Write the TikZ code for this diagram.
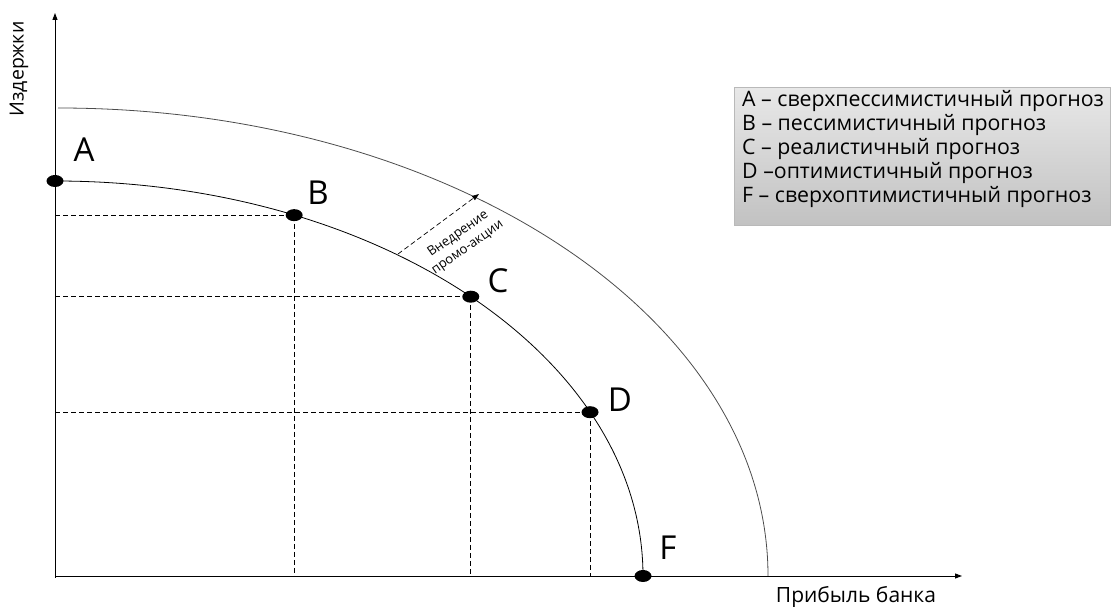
\documentclass[tikz,border=0pt]{standalone}
\usepackage{fontspec}
\setmainfont{Open Sans}
\usetikzlibrary{arrows.meta,shapes.geometric,calc}
\tikzset{
  axis/.style={line width=0.9pt, -{Triangle[length=7pt,width=5pt]}},
  curve/.style={line width=0.8pt},
  guide/.style={line width=0.6pt, dash pattern=on 5pt off 3pt},
  dot/.style={ellipse, fill=black, inner sep=0pt, minimum width=17pt, minimum height=12pt},
  ptlabel/.style={font=\fontsize{33}{36}\selectfont, inner sep=0pt},
  legendline/.style={font=\fontsize{21.3}{24}\selectfont, anchor=base west, inner sep=0pt}
}
\begin{document}
\begin{tikzpicture}[x=1pt,y=1pt]
\useasboundingbox (0,0) rectangle (1111,607);
% axes
\coordinate (O) at (55,31);
\coordinate (ytop) at (55,594);
\coordinate (xend) at (962,31);
\draw[axis] (55,29) -- (ytop);
\draw[axis] (O) -- (xend);
\node[rotate=90, font=\fontsize{19.5}{21}\selectfont, inner sep=0pt] (ylab) at (19,538) {Издержки};
\node[font=\fontsize{21}{22}\selectfont, inner sep=0pt, anchor=base] (xlab) at (856,4) {Прибыль банка};

% production-possibility style curves
\draw[curve] ($(O)+(0,395)$) arc[start angle=90, end angle=0, x radius=588, y radius=395];
\draw[curve, gray!60!black] ($(O)+(3,468)$) arc[start angle=90, end angle=0, x radius=710, y radius=468];

% forecast points
\coordinate (pA) at ($(O)+(90:588 and 395)$);
\coordinate (pB) at ($(O)+(66:588 and 395)$);
\coordinate (pC) at ($(O)+(45:588 and 395)$);
\coordinate (pD) at ($(O)+(24.5:588 and 395)$);
\coordinate (pF) at ($(O)+(0:588 and 395)$);

% guide lines
\draw[guide] (pB -| O) -- (pB) -- (pB |- O);
\draw[guide] (pC -| O) -- (pC) -- (pC |- O);
\draw[guide] (pD -| O) -- (pD) -- (pD |- O);

\node[dot] (A) at (pA) {};
\node[dot] (B) at (pB) {};
\node[dot] (C) at (pC) {};
\node[dot] (D) at (pD) {};
\node[dot] (F) at (pF) {};

\node[ptlabel] (lA) at (84,457) {A};
\node[ptlabel] (lB) at (318,414) {B};
\node[ptlabel] (lC) at (498,326) {C};
\node[ptlabel] (lD) at (620,207) {D};
\node[ptlabel] (lF) at (668,59) {F};

% shift of the curve
\coordinate (s1) at (398,353);
\coordinate (s2) at (479,413);
\draw[line width=0.7pt, dash pattern=on 5pt off 3pt, -{Triangle[length=7pt,width=5pt]}] (s1) -- (s2);
\node[rotate=35, font=\fontsize{13}{16.5}\selectfont, align=center, inner sep=0pt] (shift) at (463,366) {Внедрение\\промо-акции};

% legend
\node[draw=gray!55, top color=gray!18, bottom color=gray!48, minimum width=376pt, minimum height=138pt, anchor=north west, inner sep=0pt] (legend) at (734,520) {};
\node[legendline] (g1) at (742,500) {A – сверхпессимистичный прогноз};
\node[legendline] (g2) at (742,476) {B – пессимистичный прогноз};
\node[legendline] (g3) at (742,452) {C – реалистичный прогноз};
\node[legendline] (g4) at (742,428) {D –оптимистичный прогноз};
\node[legendline] (g5) at (742,404) {F – сверхоптимистичный прогноз};
\end{tikzpicture}
\end{document}
